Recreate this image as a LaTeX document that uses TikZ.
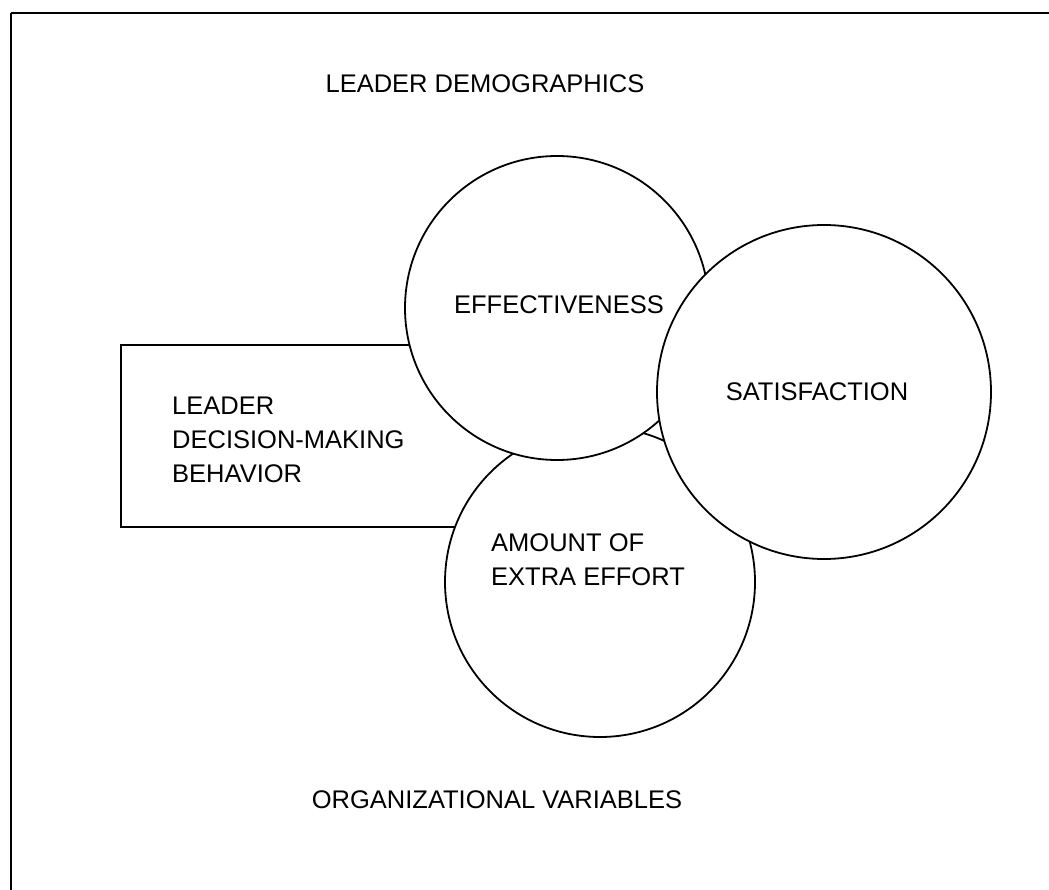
\documentclass[tikz,border=0pt]{standalone}
\usepackage{fontspec}
\setmainfont{Liberation Sans}
\begin{document}
\begin{tikzpicture}[x=1pt,y=-1pt,
  lbl/.style={inner sep=0pt, font=\fontsize{25.5}{34}\selectfont},
  bubble/.style={circle, draw, line width=1.8pt, fill=white, inner sep=0pt},
  frame/.style={line width=2.6pt}]
\useasboundingbox (0,0) rectangle (1049,890);
% page frame: top rule and left rule
\coordinate (ftl) at (11,13);
\coordinate (ftr) at (1049,13);
\coordinate (fbl) at (11,890);
\draw[frame] (ftr) -- (ftl);
\draw[line width=2pt] (ftl) -- (fbl);
% outer factors
\node[lbl] (demo) at (485,84) {LEADER DEMOGRAPHICS};
\node[lbl] (org) at (497,800) {ORGANIZATIONAL VARIABLES};
% decision-making box (its right end is hidden by the circles)
\node[draw, line width=1.6pt, minimum width=479pt, minimum height=182pt, inner sep=0pt] (box) at (360.5,436) {};
\node[lbl, align=left, anchor=west] (beh) at (172,440) {LEADER\\DECISION-MAKING\\BEHAVIOR};
% outcome circles, back to front
\node[bubble, minimum size=310pt] (effort) at (600,582) {};
\node[bubble, minimum size=304pt] (eff) at (557,308) {};
\node[bubble, minimum size=334pt] (sat) at (824,392) {};
\node[lbl] (efft) at (559,305) {EFFECTIVENESS};
\node[lbl] (satt) at (817,392) {SATISFACTION};
\node[lbl, align=left, anchor=west] (efft2) at (491,560) {AMOUNT OF\\EXTRA EFFORT};
\end{tikzpicture}
\end{document}
